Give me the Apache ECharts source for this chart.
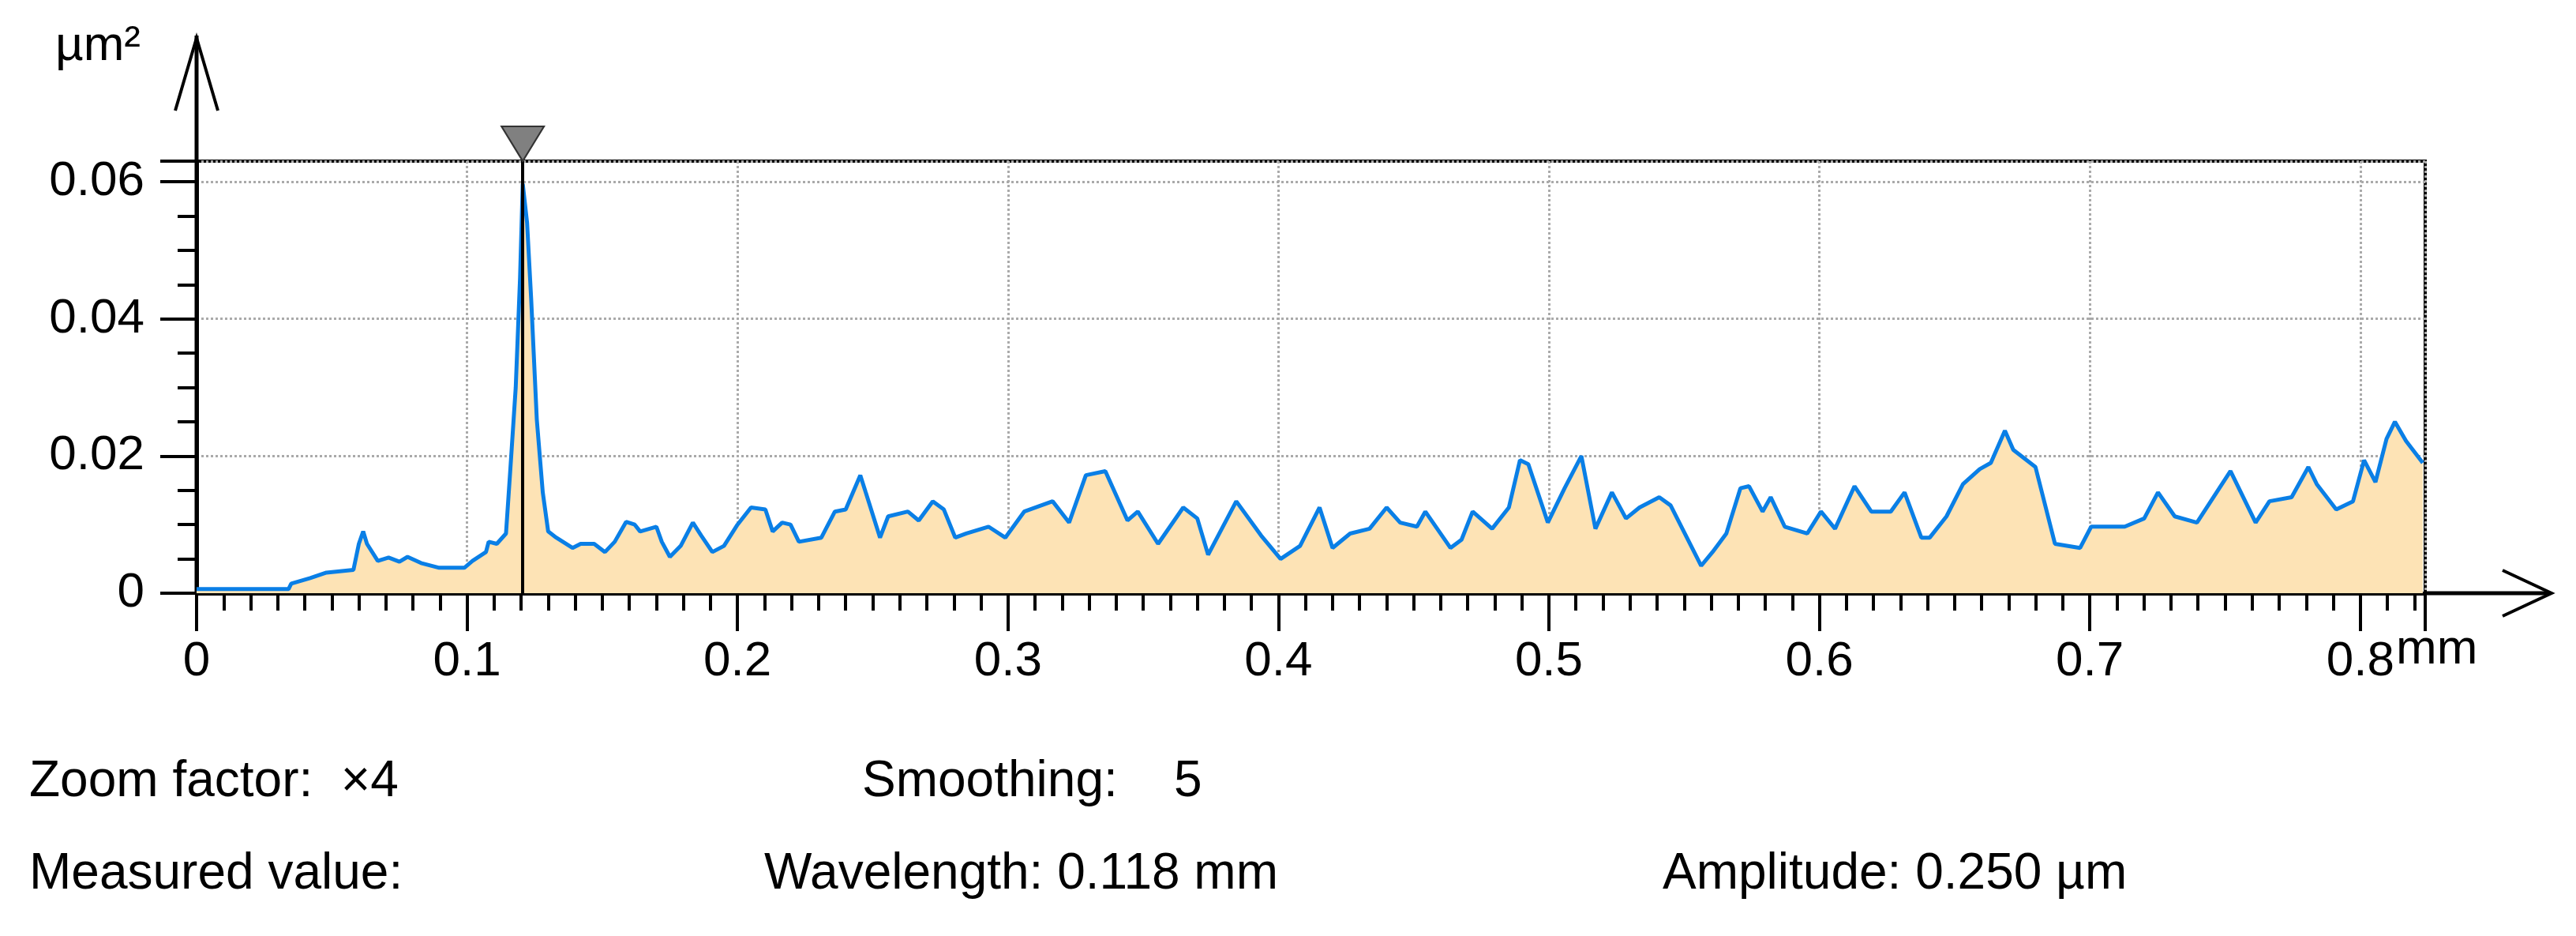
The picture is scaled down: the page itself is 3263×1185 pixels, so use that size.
<!DOCTYPE html>
<html>
<head>
<meta charset="utf-8">
<script src="https://cdn.jsdelivr.net/npm/echarts@6/dist/echarts.min.js"></script>
<style>html,body{margin:0;padding:0;background:#fff}#chart{width:3263px;height:1185px}</style>
</head>
<body>
<div id="chart"></div>
<script>
// wavelength (mm) and power (µm²)
var wavelength = [0, 0.034, 0.035, 0.042, 0.048, 0.058, 0.060, 0.0616, 0.063, 0.067, 0.071, 0.075, 0.078, 0.083, 0.0897, 0.099,
  0.102, 0.107, 0.108, 0.111, 0.1144, 0.116, 0.118, 0.1196, 0.1206, 0.1222, 0.1237, 0.1258, 0.128, 0.130, 0.133, 0.139,
  0.142, 0.147, 0.151, 0.1546, 0.1588, 0.162, 0.164, 0.170, 0.172, 0.175, 0.179, 0.1835, 0.1866, 0.1907, 0.195, 0.200,
  0.205, 0.2103, 0.213, 0.2165, 0.2196, 0.2227, 0.231, 0.236, 0.240, 0.2454, 0.2474, 0.2527, 0.2557, 0.263, 0.267,
  0.2722, 0.2763, 0.2805, 0.2846, 0.2928, 0.299, 0.306, 0.3165, 0.3226, 0.3288, 0.336, 0.3442, 0.348, 0.3555, 0.3648,
  0.370, 0.374, 0.3844, 0.3936, 0.4008, 0.408, 0.4152, 0.420, 0.4265, 0.4337, 0.440, 0.445, 0.4512, 0.4543, 0.4636,
  0.4677, 0.4718, 0.479, 0.4852, 0.4893, 0.4924, 0.4996, 0.5058, 0.512, 0.5172, 0.5233, 0.5285, 0.5335, 0.5408, 0.545,
  0.5563, 0.5605, 0.5656, 0.5708, 0.574, 0.579, 0.582, 0.5872, 0.5955, 0.6006, 0.6058, 0.613, 0.6192, 0.6264, 0.6315,
  0.6377, 0.6408, 0.647, 0.6531, 0.6593, 0.6634, 0.6686, 0.6717, 0.6799, 0.6871, 0.6964, 0.7005, 0.7129, 0.7201,
  0.7252, 0.7314, 0.7396, 0.752, 0.7613, 0.7664, 0.7746, 0.7808, 0.7839, 0.7911, 0.7973, 0.8014, 0.8056, 0.8097,
  0.8128, 0.8169, 0.8231];
var power = [0.0006, 0.0006, 0.0014, 0.0022, 0.003, 0.0034, 0.0072, 0.009, 0.0072, 0.0047, 0.0052, 0.0046, 0.0053, 0.0044, 0.0037, 0.0037,
  0.0047, 0.006, 0.0075, 0.0072, 0.0087, 0.018, 0.030, 0.046, 0.0597, 0.054, 0.043, 0.0253, 0.0147, 0.009, 0.0081, 0.0066,
  0.0072, 0.0072, 0.006, 0.0075, 0.0104, 0.010, 0.009, 0.0097, 0.0075, 0.0053, 0.0069, 0.0103, 0.0084, 0.006, 0.0069, 0.010,
  0.0125, 0.0122, 0.009, 0.0103, 0.010, 0.0075, 0.0081, 0.0119, 0.0122, 0.0172, 0.0147, 0.0081, 0.0112, 0.0119, 0.0106,
  0.0134, 0.0122, 0.0081, 0.0087, 0.0097, 0.0081, 0.0119, 0.0134, 0.0103, 0.0172, 0.0178, 0.0106, 0.0119, 0.0072, 0.0125,
  0.0109, 0.0056, 0.0134, 0.0084, 0.005, 0.0069, 0.0125, 0.0066, 0.0087, 0.0094, 0.0125, 0.0103, 0.0097, 0.0119, 0.0066,
  0.0078, 0.0119, 0.0094, 0.0125, 0.0194, 0.0188, 0.0103, 0.0153, 0.020, 0.0094, 0.0147, 0.0109, 0.0125, 0.014, 0.0128,
  0.004, 0.006, 0.0087, 0.0153, 0.0156, 0.0119, 0.014, 0.0097, 0.0087, 0.0119, 0.0094, 0.0156, 0.0119, 0.0119, 0.0147,
  0.0081, 0.0081, 0.0112, 0.0159, 0.0181, 0.019, 0.0237, 0.0209, 0.0184, 0.0072, 0.0066, 0.0097, 0.0097, 0.0109,
  0.0147, 0.0112, 0.0103, 0.0178, 0.0103, 0.0134, 0.014, 0.0184, 0.0159, 0.0122, 0.0134, 0.0194, 0.0162, 0.0225,
  0.025, 0.0222, 0.019];
var xMax = 0.824;
var yMax = 0.063;
var peakX = 0.1206;

var font = '"Liberation Sans", Arial, sans-serif';
var chart = echarts.init(document.getElementById('chart'));
var pts = wavelength.map(function (x, i) { return [x, power[i]]; });
var txt = function (x, y, s) {
  return { type: 'text', left: x, top: y, style: { text: s, font: '64px ' + font, fill: '#000' } };
};
var arrowStyle = { stroke: '#000', lineWidth: 4, fill: null };

chart.setOption({
  animation: false,
  grid: { left: 249, right: 191, top: 204, bottom: 434, show: true, borderColor: '#000', borderWidth: 4 },
  xAxis: {
    type: 'value', min: 0, max: xMax, interval: 0.1,
    axisLine: { lineStyle: { color: '#000', width: 5 } },
    axisTick: { length: 48, lineStyle: { color: '#000', width: 4 } },
    minorTick: { show: true, splitNumber: 10, length: 22, lineStyle: { color: '#000', width: 4 } },
    axisLabel: { color: '#000', fontSize: 62, fontFamily: font, margin: 56, showMaxLabel: false },
    splitLine: { lineStyle: { color: '#aaa', width: 3, type: 'dotted' } }
  },
  yAxis: {
    type: 'value', min: 0, max: yMax, interval: 0.02,
    axisLine: { lineStyle: { color: '#000', width: 5 } },
    axisTick: { length: 46, lineStyle: { color: '#000', width: 4 } },
    minorTick: { show: true, splitNumber: 4, length: 24, lineStyle: { color: '#000', width: 4 } },
    axisLabel: { color: '#000', fontSize: 62, fontFamily: font, margin: 66, showMaxLabel: false },
    splitLine: { lineStyle: { color: '#aaa', width: 3, type: 'dotted' } }
  },
  series: [{
    type: 'line', data: pts, showSymbol: false, z: 3,
    lineStyle: { color: '#0a7fe6', width: 5 },
    areaStyle: { color: '#fde3b5', opacity: 1 },
    markLine: {
      silent: true, symbol: 'none', label: { show: false },
      lineStyle: { color: '#000', width: 4, type: 'solid' },
      data: [[{ coord: [peakX, 0] }, { coord: [peakX, yMax] }]]
    },
    markPoint: {
      silent: true, label: { show: false },
      symbol: 'triangle', symbolRotate: 180, symbolSize: [54, 44], symbolOffset: [0, -22],
      itemStyle: { color: '#808080', borderColor: '#333', borderWidth: 2 },
      data: [{ coord: [peakX, yMax] }]
    }
  }],
  graphic: [
    { type: 'line', shape: { x1: 249, y1: 751, x2: 249, y2: 45 }, style: { stroke: '#000', lineWidth: 5 } },
    { type: 'polyline', shape: { points: [[222, 140], [249, 48], [276, 140]] }, style: arrowStyle },
    { type: 'line', shape: { x1: 3072, y1: 751, x2: 3230, y2: 751 }, style: { stroke: '#000', lineWidth: 5 } },
    { type: 'polyline', shape: { points: [[3170, 722], [3232, 751], [3170, 780]] }, style: arrowStyle },
    { type: 'text', left: 70, top: 28, style: { text: 'µm²', font: '62px ' + font, fill: '#000' } },
    { type: 'text', left: 3035, top: 792, style: { text: 'mm', font: '62px ' + font, fill: '#000' } },
    txt(37, 958, 'Zoom factor:  ×4'),
    txt(1092, 958, 'Smoothing:    5'),
    txt(37, 1075, 'Measured value:'),
    txt(968, 1075, 'Wavelength: 0.118 mm'),
    txt(2106, 1075, 'Amplitude: 0.250 µm')
  ]
});
</script>
</body>
</html>
